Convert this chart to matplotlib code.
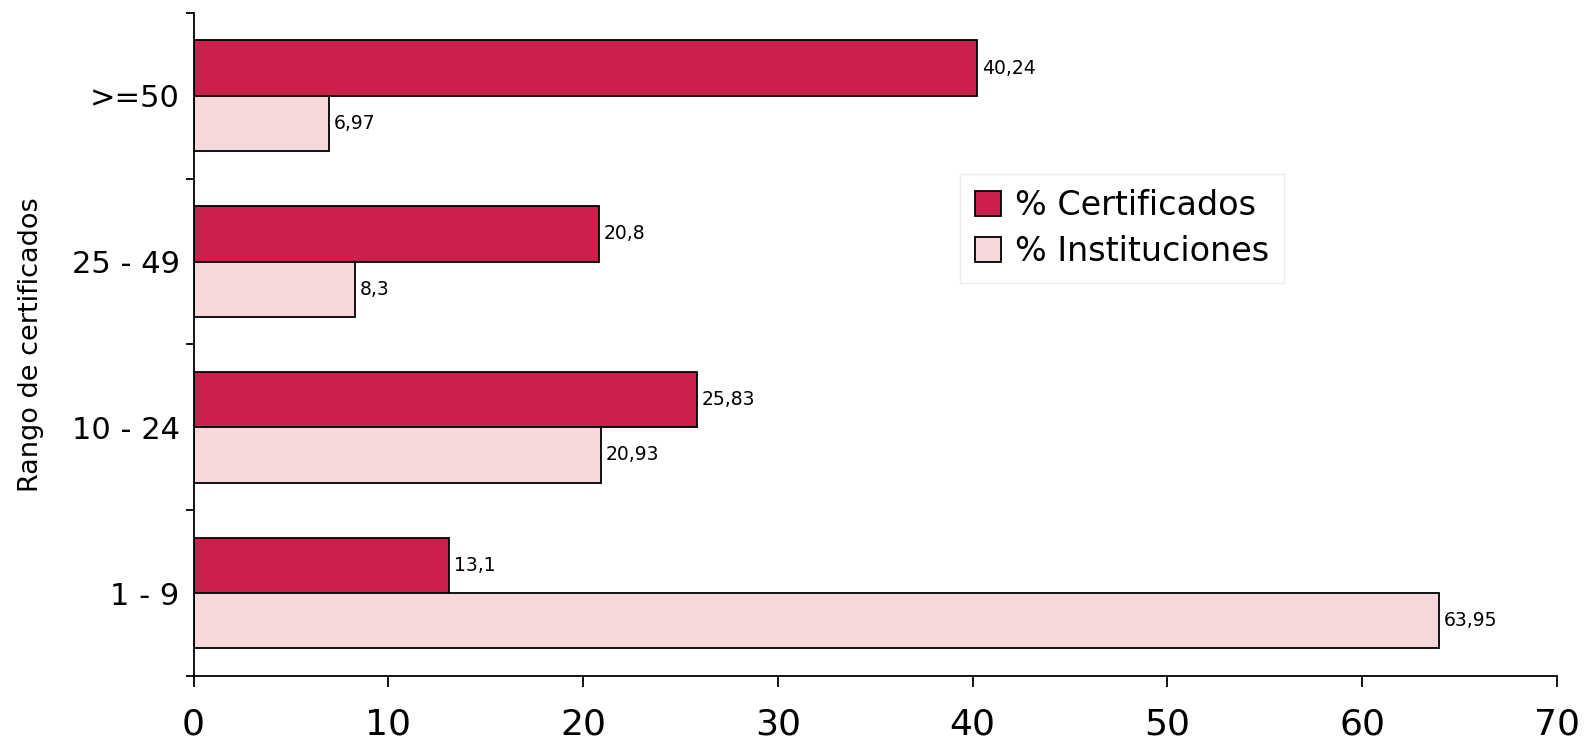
import numpy as np
import matplotlib
matplotlib.use("Agg")
import matplotlib.pyplot as plt
from matplotlib.ticker import FixedLocator

# data
categories = ["1 - 9", "10 - 24", "25 - 49", ">=50"]
certificados = [13.1, 25.83, 20.8, 40.24]
instituciones = [63.95, 20.93, 8.3, 6.97]
cert_labels = ["13,1", "25,83", "20,8", "40,24"]
inst_labels = ["63,95", "20,93", "8,3", "6,97"]

dark = "#CB204C"
light = "#F6D7DA"

fig = plt.figure(figsize=(15.89, 7.46), dpi=100)
ax = fig.add_axes([0.1218, 0.0938, 0.858, 0.889])

y = np.arange(len(categories))
h = 1 / 3
b1 = ax.barh(y + h / 2, certificados, height=h, color=dark, edgecolor="black",
             linewidth=1.3, label="% Certificados")
b2 = ax.barh(y - h / 2, instituciones, height=h, color=light, edgecolor="black",
             linewidth=1.3, label="% Instituciones")

for bar, txt in zip(b1, cert_labels):
    ax.text(bar.get_width() + 0.25, bar.get_y() + bar.get_height() / 2, txt,
            va="center", ha="left", fontsize=13.5)
for bar, txt in zip(b2, inst_labels):
    ax.text(bar.get_width() + 0.25, bar.get_y() + bar.get_height() / 2, txt,
            va="center", ha="left", fontsize=13.5)

ax.set_xlim(0, 70)
ax.set_ylim(-0.5, 3.5)
ax.set_xticks(np.arange(0, 71, 10))
ax.tick_params(axis="x", labelsize=26, length=8, width=1.3, pad=15)

ax.set_yticks(y)
ax.set_yticklabels(categories)
ax.yaxis.set_minor_locator(FixedLocator(np.arange(-0.5, 3.6, 1)))
ax.tick_params(axis="y", which="major", length=0, labelsize=22, pad=10)
ax.tick_params(axis="y", which="minor", length=6, width=1.3)
ax.set_ylabel("Rango de certificados", fontsize=19.5, labelpad=20)

for s in ["top", "right"]:
    ax.spines[s].set_visible(False)
for s in ["left", "bottom"]:
    ax.spines[s].set_linewidth(1.3)

leg = ax.legend(loc="upper left", bbox_to_anchor=(0.562, 0.757), fontsize=24,
                frameon=True, fancybox=False, borderaxespad=0,
                handlelength=0.8, handleheight=0.8,
                handletextpad=0.4, borderpad=0.45, labelspacing=0.4)
leg.get_frame().set_edgecolor("#E6E6E6")
leg.get_frame().set_linewidth(1)

fig.savefig("out.png", dpi=100)
